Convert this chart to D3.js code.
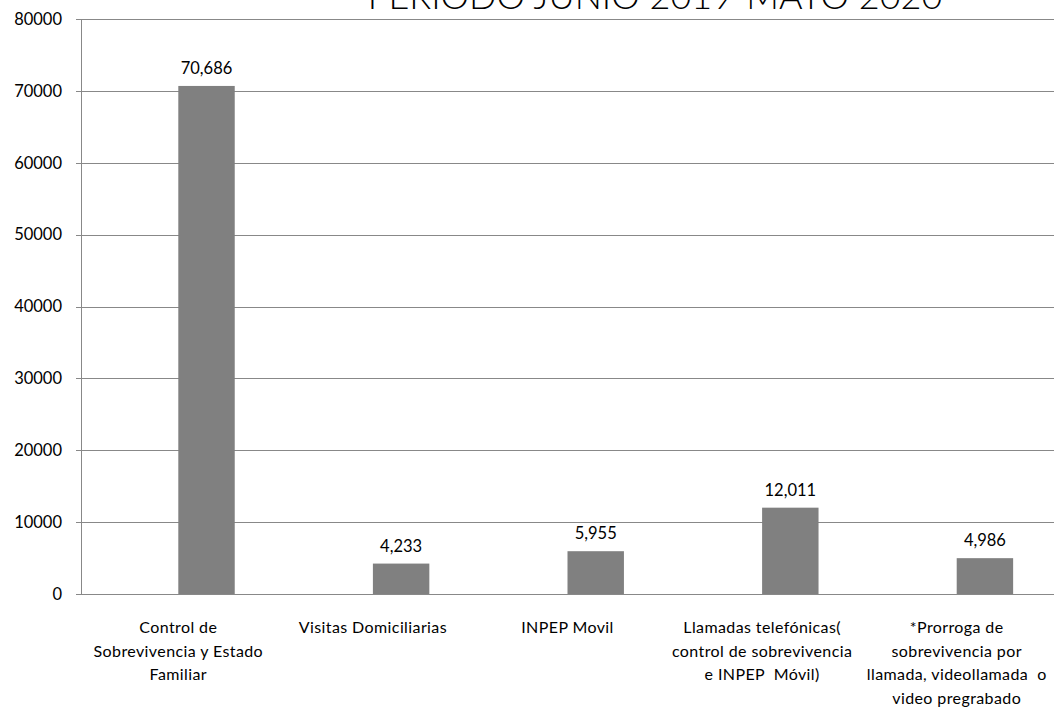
<!DOCTYPE html>
<html>
<head>
<meta charset="utf-8">
<script src="https://cdn.jsdelivr.net/npm/d3@7"></script>
<style>
  html, body { margin: 0; padding: 0; background: #ffffff; }
  svg { display: block; }
  text { font-family: Lato, "Liberation Sans", sans-serif; fill: #000; }
</style>
</head>
<body>
<script>
// Chart data
const title = "PERÍODO JUNIO 2019-MAYO 2020";
const categories = [
  ["Control de", "Sobrevivencia y Estado", "Familiar"],
  ["Visitas Domiciliarias"],
  ["INPEP Movil"],
  ["Llamadas telefónicas(", "control de sobrevivencia", "e INPEP  Móvil)"],
  ["*Prorroga de", "sobrevivencia por", "llamada, videollamada  o", "video pregrabado"]
];
const values = [70686, 4233, 5955, 12011, 4986];
const yTicks = [0, 10000, 20000, 30000, 40000, 50000, 60000, 70000, 80000];

const W = 1055, H = 707;
const margin = { top: 19, right: 1, bottom: 113, left: 81 };
const innerW = W - margin.left - margin.right;
const innerH = H - margin.top - margin.bottom;

const svg = d3.select("body").append("svg").attr("width", W).attr("height", H);
const g = svg.append("g").attr("transform", `translate(${margin.left},${margin.top})`);

const ids = categories.map((_, i) => i);
const x = d3.scaleBand().domain(ids).range([0, innerW]).padding(0);
const y = d3.scaleLinear().domain([0, 80000]).range([innerH, 0]);

// Gridlines
g.append("g").selectAll("line").data(yTicks).join("line")
  .attr("x1", -5).attr("x2", innerW)
  .attr("y1", d => Math.round(y(d)) + 0.5).attr("y2", d => Math.round(y(d)) + 0.5)
  .attr("stroke", "#888").attr("stroke-width", 1);

// Y axis line
g.append("line")
  .attr("x1", 0.5).attr("x2", 0.5).attr("y1", 0).attr("y2", innerH)
  .attr("stroke", "#888");

// Y tick labels
g.append("g").selectAll("text").data(yTicks).join("text")
  .attr("x", -19).attr("y", d => y(d)).attr("dy", "0.35em")
  .attr("text-anchor", "end").style("font-size", "16.5px")
  .text(d => d);

// Bars: each sits in the right half of its category slot
const barW = x.bandwidth() * 0.29;
g.append("g").selectAll("rect").data(values).join("rect")
  .attr("x", (d, i) => x(i) + x.bandwidth() / 2)
  .attr("y", d => y(d))
  .attr("width", barW)
  .attr("height", d => innerH - y(d))
  .attr("fill", "#808080");

// Value labels
const fmt = d3.format(",");
g.append("g").selectAll("text").data(values).join("text")
  .attr("x", (d, i) => x(i) + x.bandwidth() / 2 + barW / 2)
  .attr("y", d => y(d) - 12)
  .attr("text-anchor", "middle").style("font-size", "16.5px")
  .text(d => fmt(d));

// Category labels
const cat = g.append("g").selectAll("text").data(categories).join("text")
  .attr("text-anchor", "middle").style("font-size", "16px").style("letter-spacing", "0.4px")
  .attr("transform", (d, i) => `translate(${x(i) + x.bandwidth() / 2},${innerH + 39})`);
cat.selectAll("tspan").data(d => d).join("tspan")
  .attr("x", 0).attr("y", (d, j) => j * 23.7)
  .style("white-space", "pre")
  .text(d => d);

// Title (partly above the visible area)
svg.append("text")
  .attr("x", 655).attr("y", 9)
  .attr("text-anchor", "middle")
  .style("font-size", "36px").style("font-weight", 300)
  .text(title);
</script>
</body>
</html>
